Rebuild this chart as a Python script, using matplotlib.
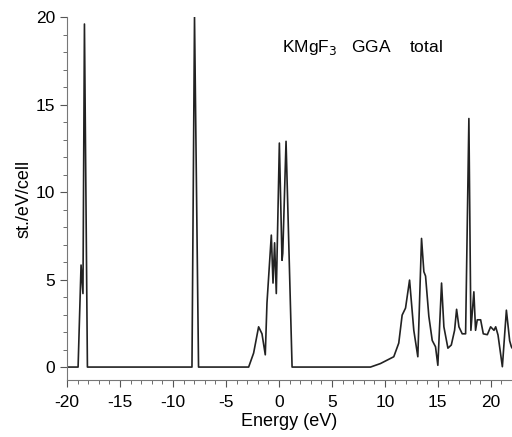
import matplotlib
matplotlib.use("Agg")
import matplotlib.pyplot as plt
import numpy as np
from matplotlib.ticker import MultipleLocator

plt.rcParams["font.family"] = ["Liberation Sans", "DejaVu Sans"]
plt.rcParams["axes.unicode_minus"] = False

# total DOS (energy in eV, states/eV/cell)
energy = [
    -20.0, -18.96, -18.68, -18.5, -18.36, -18.08,
    -8.21, -7.97, -7.59,
    -2.86, -2.39, -1.92, -1.6, -1.29, -1.13, -0.72, -0.56, -0.41, -0.25,
    0.04, 0.29, 0.36, 0.67, 1.24,
    8.64, 9.58, 10.84, 11.31, 11.63, 11.95, 12.33, 12.73, 13.11, 13.46,
    13.68, 13.84, 14.15, 14.47, 14.78, 15.0, 15.35, 15.57, 15.95, 16.27,
    16.58, 16.77, 16.99, 17.3, 17.62, 17.93, 18.12, 18.4, 18.56, 18.72,
    19.04, 19.29, 19.67, 19.98, 20.3, 20.46, 20.68, 21.09, 21.47, 21.78,
    21.94, 22.0,
]
dos = [
    0.0, 0.0, 5.83, 4.2, 19.6, 0.0,
    0.0, 20.0, 0.0,
    0.0, 0.8, 2.3, 1.9, 0.7, 3.66, 7.54, 4.8, 7.1, 4.2,
    12.8, 6.1, 6.5, 12.9, 0.0,
    0.0, 0.2, 0.59, 1.37, 2.97, 3.37, 4.97, 2.1, 0.59, 7.35,
    5.45, 5.2, 2.9, 1.52, 1.16, 0.1, 4.8, 2.3, 1.08, 1.26,
    2.1, 3.3, 2.3, 1.9, 1.9, 14.2, 2.1, 4.3, 2.1, 2.7,
    2.7, 1.9, 1.85, 2.3, 2.1, 2.3, 1.83, 0.02, 3.25, 1.5,
    1.16, 1.1,
]

fig = plt.figure(figsize=(5.12, 4.37), dpi=100)
ax = fig.add_axes([0.131, 0.130, 0.869, 0.831])
ax.plot(energy, dos, color="#222222", lw=1.2)

ax.set_xlim(-20, 22)
ax.set_ylim(-0.75, 20)
ax.xaxis.set_major_locator(MultipleLocator(5))
ax.xaxis.set_minor_locator(MultipleLocator(1))
ax.yaxis.set_major_locator(MultipleLocator(5))
ax.yaxis.set_minor_locator(MultipleLocator(1))
ax.tick_params(which="both", direction="out", labelsize=12.5, color="#555555")
ax.tick_params(which="major", length=5)
ax.tick_params(which="minor", length=3)
ax.tick_params(axis="x", which="major", pad=6)
for s in ["top", "right"]:
    ax.spines[s].set_visible(False)
for s in ["left", "bottom"]:
    ax.spines[s].set_color("#777777")

ax.set_xlabel("Energy (eV)", fontsize=13, labelpad=2)
ax.set_ylabel("st./eV/cell", fontsize=13, labelpad=2)
ax.text(0.3, 18.0, r"KMgF$_3$   GGA    total", fontsize=12.5)

fig.savefig("out.png", dpi=100)
